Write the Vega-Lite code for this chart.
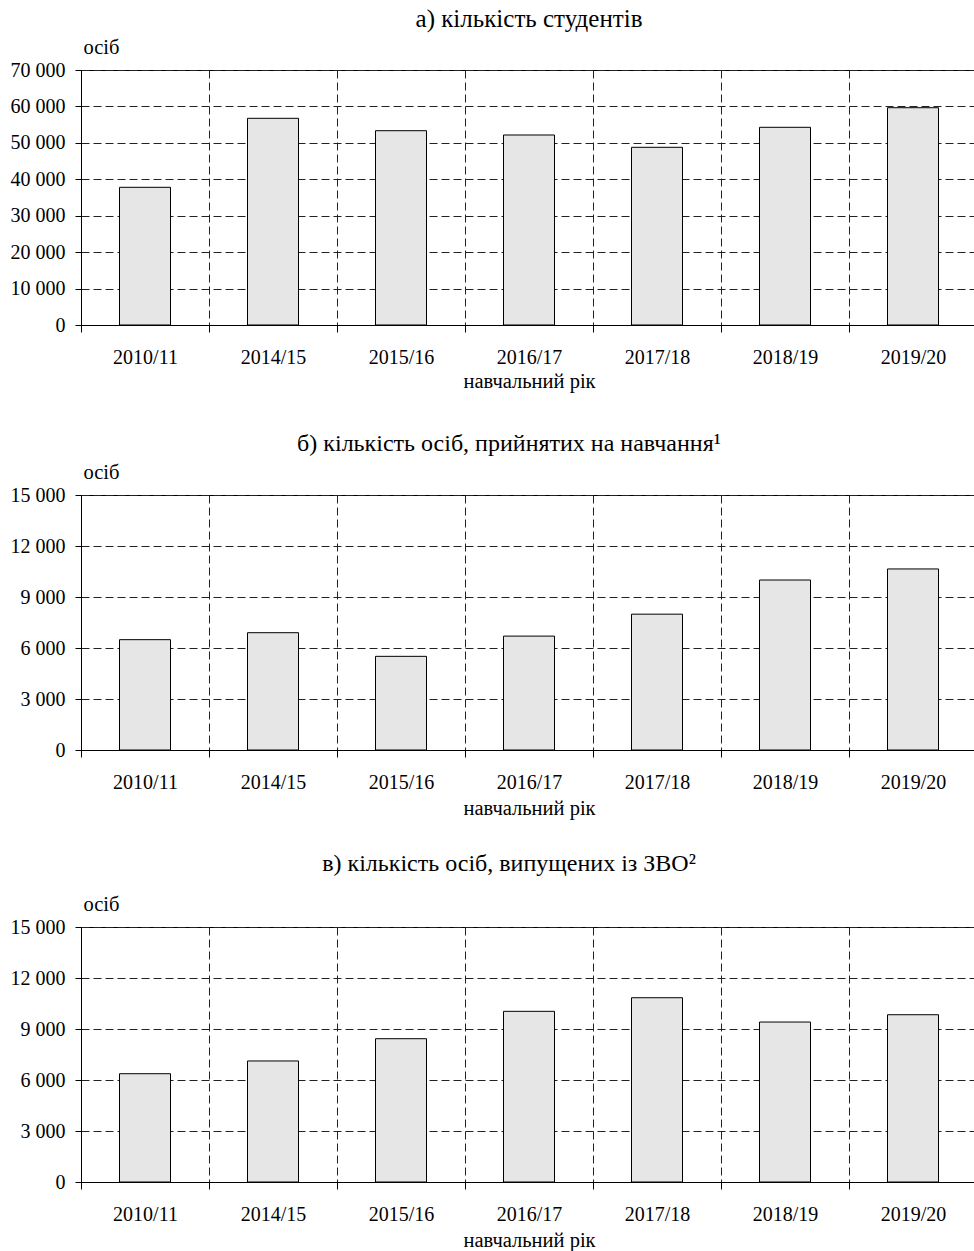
{
  "$schema": "https://vega.github.io/schema/vega-lite/v6.json",
  "padding": {"left": 9, "top": 6, "right": 0, "bottom": 0},
  "spacing": 32,
  "datasets": {
    "a": [
      {"year": "2010/11", "value": 37800},
      {"year": "2014/15", "value": 56740},
      {"year": "2015/16", "value": 53340},
      {"year": "2016/17", "value": 52160},
      {"year": "2017/18", "value": 48780},
      {"year": "2018/19", "value": 54270},
      {"year": "2019/20", "value": 59650}
    ],
    "b": [
      {"year": "2010/11", "value": 6490},
      {"year": "2014/15", "value": 6900},
      {"year": "2015/16", "value": 5510},
      {"year": "2016/17", "value": 6700},
      {"year": "2017/18", "value": 7990},
      {"year": "2018/19", "value": 10000},
      {"year": "2019/20", "value": 10650}
    ],
    "c": [
      {"year": "2010/11", "value": 6370},
      {"year": "2014/15", "value": 7120},
      {"year": "2015/16", "value": 8430},
      {"year": "2016/17", "value": 10040},
      {"year": "2017/18", "value": 10840},
      {"year": "2018/19", "value": 9410},
      {"year": "2019/20", "value": 9840}
    ]
  },
  "vconcat": [
    {
      "width": 896,
      "height": 255,
      "title": {"text": "а) кількість студентів", "offset": 5, "fontSize": 25},
      "data": {"name": "a"},
      "mark": {"type": "bar", "size": 51, "fill": "#e6e6e6", "stroke": "black", "strokeWidth": 1},
      "encoding": {
        "x": {"field": "year", "type": "nominal", "sort": null, "title": ["навчальний рік", " "],
              "scale": {"paddingInner": 0, "paddingOuter": 0},
              "axis": {"titleLineHeight": 7}},
        "y": {"field": "value", "type": "quantitative", "title": "осіб",
              "scale": {"domain": [0, 70000], "nice": false},
              "axis": {"values": [0, 10000, 20000, 30000, 40000, 50000, 60000, 70000]}}
      }
    },
    {
      "width": 896,
      "height": 255,
      "title": {"text": "б) кількість осіб, прийнятих на навчання¹", "offset": 6, "dx": -20},
      "data": {"name": "b"},
      "mark": {"type": "bar", "size": 51, "fill": "#e6e6e6", "stroke": "black", "strokeWidth": 1},
      "encoding": {
        "x": {"field": "year", "type": "nominal", "sort": null, "title": "навчальний рік",
              "scale": {"paddingInner": 0, "paddingOuter": 0},
              "axis": {"titlePadding": 6}},
        "y": {"field": "value", "type": "quantitative", "title": "осіб",
              "scale": {"domain": [0, 15000], "nice": false},
              "axis": {"values": [0, 3000, 6000, 9000, 12000, 15000]}}
      }
    },
    {
      "width": 896,
      "height": 255,
      "title": {"text": "в) кількість осіб, випущених із ЗВО²", "offset": 18, "dx": -20},
      "data": {"name": "c"},
      "mark": {"type": "bar", "size": 51, "fill": "#e6e6e6", "stroke": "black", "strokeWidth": 1},
      "encoding": {
        "x": {"field": "year", "type": "nominal", "sort": null, "title": "навчальний рік",
              "scale": {"paddingInner": 0, "paddingOuter": 0},
              "axis": {"titlePadding": 6}},
        "y": {"field": "value", "type": "quantitative", "title": "осіб",
              "scale": {"domain": [0, 15000], "nice": false},
              "axis": {"values": [0, 3000, 6000, 9000, 12000, 15000]}}
      }
    }
  ],
  "config": {
    "font": "Liberation Serif",
    "view": {"stroke": "black", "strokeWidth": 1},
    "title": {"font": "Liberation Serif", "fontSize": 24, "fontWeight": "normal", "color": "black", "anchor": "middle", "frame": "group"},
    "axis": {
      "labelFont": "Liberation Serif",
      "titleFont": "Liberation Serif",
      "labelColor": "black",
      "titleColor": "black",
      "titleFontWeight": "normal",
      "domainColor": "black",
      "tickColor": "black",
      "grid": true,
      "gridColor": "#222",
      "gridDash": [8, 4],
      "gridWidth": 1
    },
    "axisX": {
      "labelAngle": 0,
      "labelFontSize": 20,
      "titleFontSize": 20.5,
      "tickBand": "extent",
      "tickSize": 7,
      "labelPadding": 15,
      "titlePadding": 4
    },
    "axisY": {
      "labelFontSize": 20,
      "titleFontSize": 20.5,
      "tickSize": 6,
      "labelPadding": 10,
      "titleAngle": 0,
      "titleAlign": "left",
      "titleBaseline": "alphabetic",
      "titleX": 2,
      "titleY": -17,
      "labelExpr": "replace(format(datum.value, ','), ',', ' ')"
    }
  }
}
